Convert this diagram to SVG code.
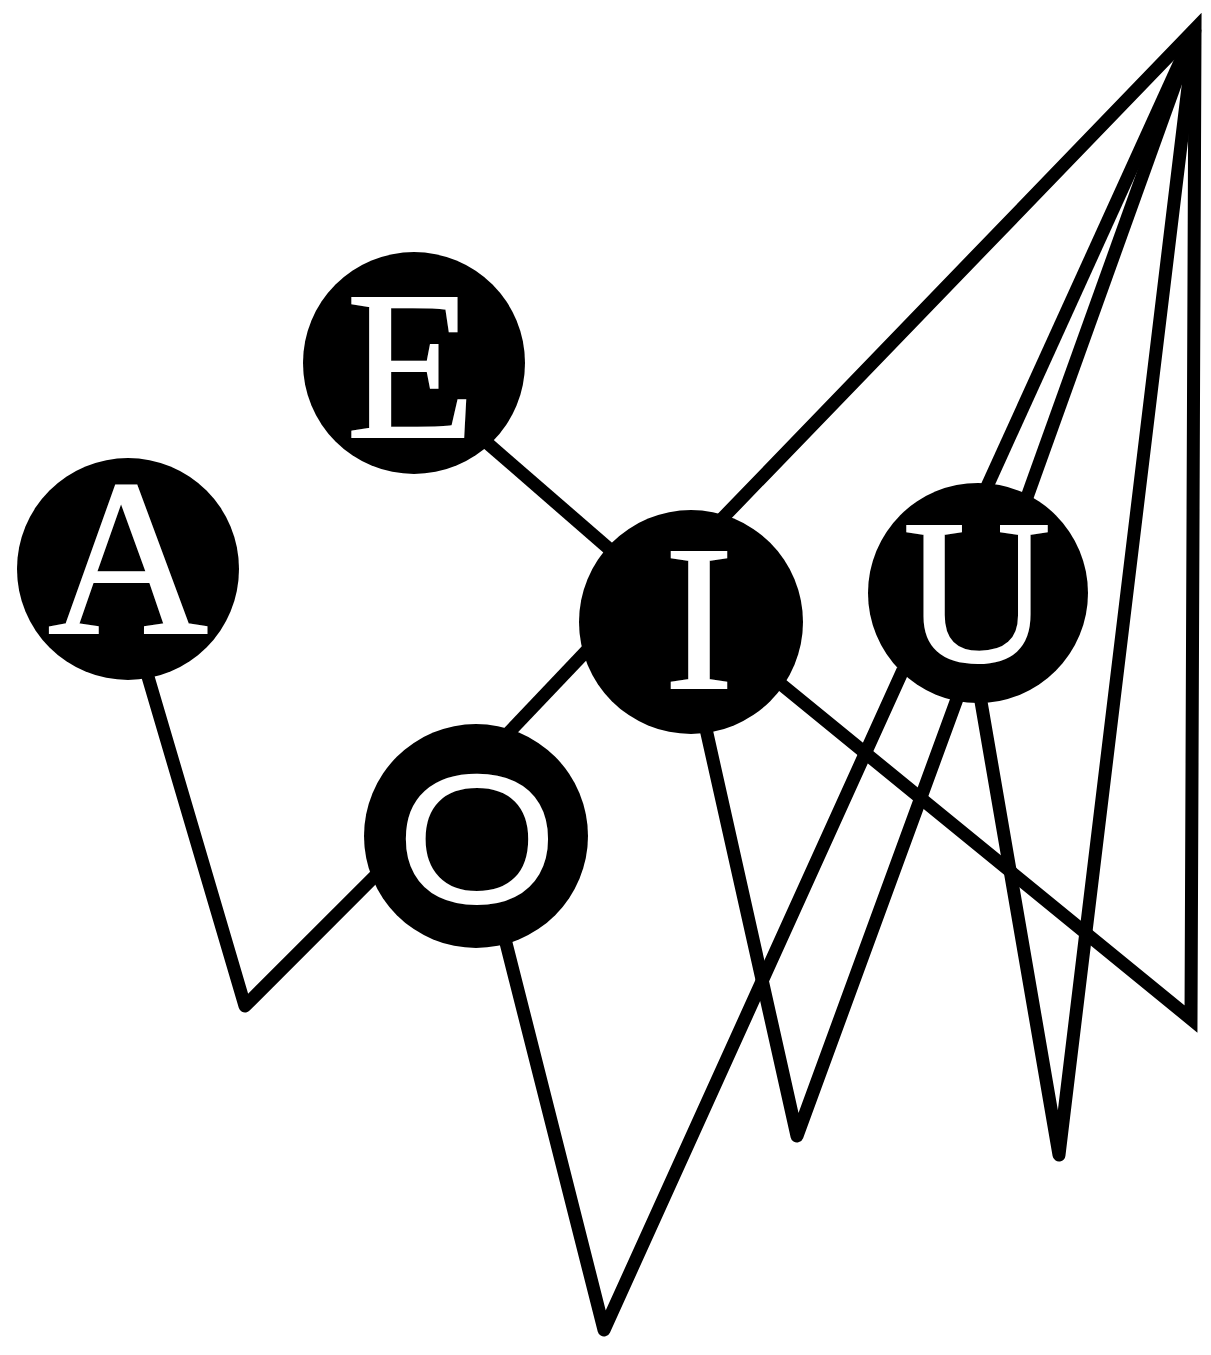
<svg xmlns="http://www.w3.org/2000/svg" width="1211" height="1355" viewBox="0 0 1211 1355">
<style>
.c{fill:none;stroke:#000;stroke-width:13}
.r{stroke-linejoin:round}
.m{stroke-linejoin:miter;stroke-miterlimit:10}
.n{fill:#000}
.t{fill:#fff;stroke:#fff;stroke-width:2;font-family:"Liberation Serif","Times New Roman",serif;text-anchor:middle}
.o{fill:#fff;font-family:"Liberation Sans",Arial,sans-serif;text-anchor:middle}
</style>
<rect width="1211" height="1355" fill="#fff"/>
<g id="connectors">
<polyline class="c r" points="146,670 245,1006 385,866"/>
<polyline class="c r" points="470,428 630,567"/>
<polyline class="c m" points="715,526 1195,29 1191,1019 760,667" stroke-width="14"/>
<polyline class="c r" points="980,502 1195,29"/>
<polyline class="c r" points="1026,500 1195,29"/>
<polyline class="c r" points="979,690 1059,1155 1195,29"/>
<polyline class="c r" points="704,720 797,1136 961,688"/>
<polyline class="c r" points="504,935 604,1330 903,670"/>
<polyline class="c r" points="612,624 497,745"/>
</g>
<g id="node-A"><circle class="n" cx="128" cy="569" r="111"/><text class="t" x="128" y="633" font-size="222">A</text></g>
<g id="node-E"><circle class="n" cx="414" cy="363" r="111"/><text class="t" x="411" y="437" font-size="212">E</text></g>
<g id="node-I"><circle class="n" cx="691" cy="622" r="112"/><text class="t" x="699" y="688" font-size="208">I</text></g>
<g id="node-U"><circle class="n" cx="978" cy="593" r="110"/><text class="t" x="977" y="661" font-size="205">U</text></g>
<g id="node-O"><circle class="n" cx="476" cy="836" r="112"/><text class="o" transform="translate(477,903) scale(1.12,1)" x="0" y="0" font-size="186">O</text></g>
</svg>
